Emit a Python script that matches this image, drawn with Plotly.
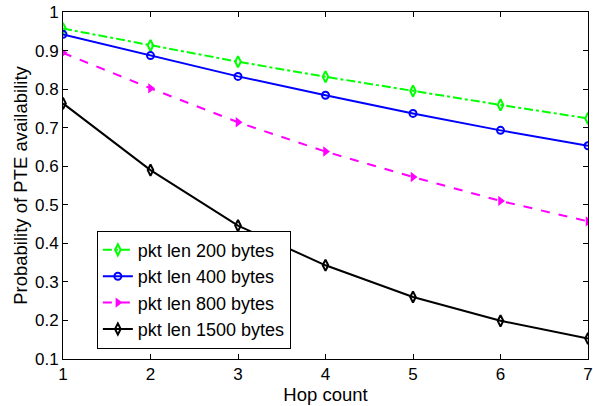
import plotly.graph_objects as go

hops = [1, 2, 3, 4, 5, 6, 7]
p200 = [0.957, 0.913, 0.871, 0.832, 0.795, 0.759, 0.724]
p400 = [0.942, 0.887, 0.833, 0.784, 0.737, 0.693, 0.653]
p800 = [0.894, 0.802, 0.714, 0.638, 0.572, 0.510, 0.457]
p1500 = [0.763, 0.590, 0.446, 0.343, 0.261, 0.199, 0.153]
names = ["pkt len 200 bytes", "pkt len 400 bytes", "pkt len 800 bytes", "pkt len 1500 bytes"]

FONT = "Liberation Sans, Arial, Helvetica"

fig = go.Figure()
fig.add_trace(go.Scatter(x=hops, y=p200, name=names[0], mode="lines+markers",
                         line=dict(color="#00ff00", width=2, dash="dashdot"),
                         marker=dict(symbol="diamond-tall-open", size=8, color="#00ff00", line=dict(width=2))))
fig.add_trace(go.Scatter(x=hops, y=p400, name=names[1], mode="lines+markers",
                         line=dict(color="#0000ff", width=2),
                         marker=dict(symbol="circle-open", size=7, color="#0000ff", line=dict(width=2))))
fig.add_trace(go.Scatter(x=hops, y=p800, name=names[2], mode="lines+markers",
                         line=dict(color="#ff00ff", width=2, dash="dash"),
                         marker=dict(symbol="triangle-right", size=9, color="#ff00ff")))
fig.add_trace(go.Scatter(x=hops, y=p1500, name=names[3], mode="lines+markers",
                         line=dict(color="#000000", width=2),
                         marker=dict(symbol="diamond-tall-open", size=8, color="#000000", line=dict(width=2))))

axis_common = dict(showgrid=False, zeroline=False, showline=True, linecolor="black", linewidth=1,
                   mirror="allticks", ticks="inside", ticklen=5, tickcolor="black",
                   ticklabeloverflow="allow", automargin=False,
                   tickfont=dict(family=FONT, size=17, color="black"))
fig.update_xaxes(range=[1, 7], dtick=1, title=dict(text="Hop count", standoff=0,
                 font=dict(family=FONT, size=18.5, color="black")), **axis_common)
fig.update_yaxes(range=[0.1, 1], dtick=0.1, tickformat=".1~f",
                 title=dict(text="Probability of PTE availability", standoff=2,
                            font=dict(family=FONT, size=18.5, color="black")), **axis_common)

fig.update_layout(
    width=593, height=406, margin=dict(l=63, r=5, t=12, b=47),
    paper_bgcolor="white", plot_bgcolor="white", showlegend=True,
    legend=dict(x=0.0645, y=0.2, xanchor="left", yanchor="middle", bgcolor="white",
                bordercolor="black", borderwidth=1, tracegroupgap=0, itemwidth=30,
                font=dict(family=FONT, size=18, color="black")),
)
fig.write_html("out.html")
